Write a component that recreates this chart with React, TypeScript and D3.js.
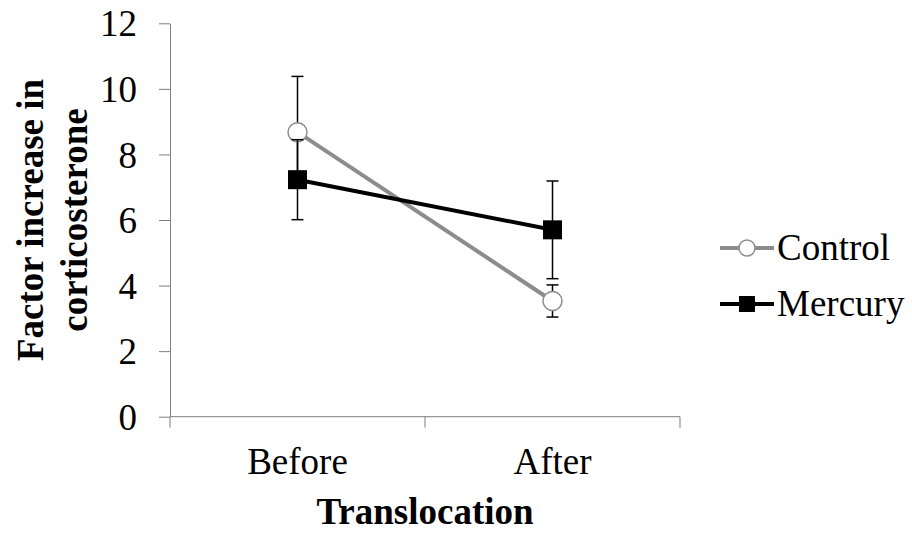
import React, { useEffect, useRef } from "react";
import * as d3 from "d3";

// data
const categories = ["Before", "After"];
const controlMeans = [8.68, 3.53];
const controlErr = [1.7, 0.49];
const mercuryMeans = [7.23, 5.7];
const mercuryErr = [1.22, 1.49];
const yTicks = [0, 2, 4, 6, 8, 10, 12];
const seriesNames = ["Control", "Mercury"];

const W = 912;
const H = 534;
const FONT = "'Liberation Serif', 'Times New Roman', serif";

export default function App() {
  const svgRef = useRef<SVGSVGElement>(null);

  useEffect(() => {
    const svg = d3.select(svgRef.current);
    svg.selectAll("*").remove();

    const left = 170, right = 680, top = 23.3, bottom = 416.7;
    const axisColor = "#7f7f7f";

    const x = d3.scaleBand().domain(categories).range([left, right]).padding(0);
    const cx = (c: string) => (x(c) as number) + x.bandwidth() / 2;
    const y = d3.scaleLinear().domain([0, 12]).range([bottom, top]);

    // y axis
    const yAxis = d3.axisLeft(y).tickValues(yTicks).tickSize(11).tickSizeOuter(0).tickPadding(22);
    const gy = svg.append("g").attr("transform", `translate(${left},0)`).call(yAxis);
    gy.select(".domain").attr("stroke", axisColor);
    gy.selectAll(".tick line").attr("stroke", axisColor);
    gy.selectAll(".tick text")
      .attr("fill", "#000")
      .style("font-family", FONT)
      .style("font-size", "37px")
      .attr("dy", "0.34em");

    // x axis: ticks on category boundaries
    const bounds = [left, ...categories.map((c) => (x(c) as number) + x.bandwidth())];
    const gx = svg.append("g");
    gx.append("line")
      .attr("x1", left).attr("x2", right)
      .attr("y1", bottom).attr("y2", bottom)
      .attr("stroke", axisColor);
    gx.selectAll(".xt")
      .data(bounds)
      .join("line")
      .attr("x1", (d) => d).attr("x2", (d) => d)
      .attr("y1", bottom).attr("y2", bottom + 11)
      .attr("stroke", axisColor);
    gx.selectAll(".xl")
      .data(categories)
      .join("text")
      .attr("x", (d) => cx(d))
      .attr("y", 474)
      .attr("text-anchor", "middle")
      .style("font-family", FONT)
      .style("font-size", "37px")
      .text((d) => d);

    // axis titles
    svg.append("text")
      .attr("x", (left + right) / 2)
      .attr("y", 524)
      .attr("text-anchor", "middle")
      .style("font-family", FONT)
      .style("font-size", "37px")
      .style("font-weight", "bold")
      .text("Translocation");

    const yt = svg.append("text")
      .attr("transform", `translate(43,${(top + bottom) / 2}) rotate(-90)`)
      .attr("text-anchor", "middle")
      .style("font-family", FONT)
      .style("font-size", "37px")
      .style("font-weight", "bold");
    yt.append("tspan").attr("x", 0).attr("y", 0).text("Factor increase in");
    yt.append("tspan").attr("x", 0).attr("y", 44).text("corticosterone");

    const line = d3.line<number>().x((d, i) => cx(categories[i])).y((d) => y(d));

    // error bars
    const errBars = (means: number[], errs: number[]) => {
      const g = svg.append("g");
      means.forEach((m, i) => {
        const px = cx(categories[i]);
        const hi = y(m + errs[i]);
        const lo = y(m - errs[i]);
        g.append("line").attr("x1", px).attr("x2", px).attr("y1", hi).attr("y2", lo)
          .attr("stroke", "#000").attr("stroke-width", 1.5);
        [hi, lo].forEach((yy) => {
          g.append("line").attr("x1", px - 6).attr("x2", px + 6).attr("y1", yy).attr("y2", yy)
            .attr("stroke", "#000").attr("stroke-width", 1.5);
        });
      });
    };

    // control series
    errBars(controlMeans, controlErr);
    svg.append("path").attr("d", line(controlMeans))
      .attr("fill", "none").attr("stroke", "#8c8c8c").attr("stroke-width", 4);
    svg.selectAll(".cdot")
      .data(controlMeans)
      .join("circle")
      .attr("cx", (d, i) => cx(categories[i]))
      .attr("cy", (d) => y(d))
      .attr("r", 9.5)
      .attr("fill", "#fff")
      .attr("stroke", "#8c8c8c")
      .attr("stroke-width", 1.5);

    // mercury series
    errBars(mercuryMeans, mercuryErr);
    svg.append("path").attr("d", line(mercuryMeans))
      .attr("fill", "none").attr("stroke", "#000").attr("stroke-width", 4);
    svg.selectAll(".mdot")
      .data(mercuryMeans)
      .join("rect")
      .attr("x", (d, i) => cx(categories[i]) - 9.5)
      .attr("y", (d) => y(d) - 9.5)
      .attr("width", 19)
      .attr("height", 19)
      .attr("fill", "#000");

    // legend
    const lg = svg.append("g");
    const legY = [248, 304];
    seriesNames.forEach((name, i) => {
      const yy = legY[i];
      lg.append("line").attr("x1", 720).attr("x2", 774).attr("y1", yy).attr("y2", yy)
        .attr("stroke", i === 0 ? "#8c8c8c" : "#000").attr("stroke-width", 4);
      if (i === 0) {
        lg.append("circle").attr("cx", 747).attr("cy", yy).attr("r", 8)
          .attr("fill", "#fff").attr("stroke", "#8c8c8c").attr("stroke-width", 1.5);
      } else {
        lg.append("rect").attr("x", 739).attr("y", yy - 8).attr("width", 16).attr("height", 16)
          .attr("fill", "#000");
      }
      lg.append("text")
        .attr("x", 777)
        .attr("y", yy + 12)
        .style("font-family", FONT)
        .style("font-size", "37px")
        .text(name);
    });
  }, []);

  return (
    <div style={{ position: "absolute", left: 0, top: 0 }}>
      <svg ref={svgRef} width={W} height={H} style={{ display: "block", background: "#fff" }} />
    </div>
  );
}
